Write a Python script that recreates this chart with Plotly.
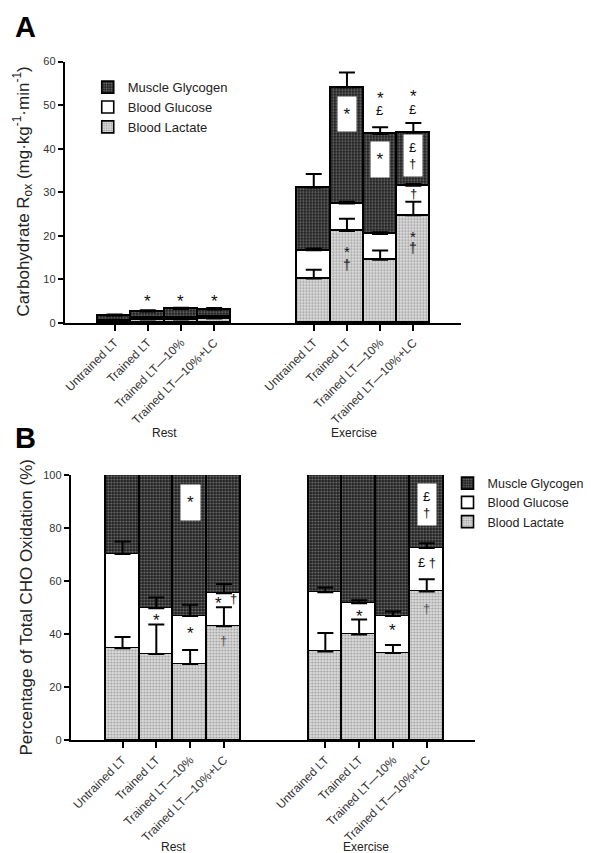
import plotly.graph_objects as go

# ---------------- data ----------------
conditions = ["Untrained LT", "Trained LT", "Trained LT\u201410%", "Trained LT\u201410%+LC"]
groups = ["Rest", "Exercise"]
sources = ["Muscle Glycogen", "Blood Glucose", "Blood Lactate"]

# Panel A: absolute rates (mg/kg/min), segment values
a_rest_lactate = [0.3, 0.8, 0.8, 1.0]
a_rest_glucose = [0.3, 0.4, 0.4, 0.5]
a_rest_glycogen = [1.1, 1.4, 2.0, 1.6]
a_ex_lactate = [10.2, 21.1, 14.5, 24.7]
a_ex_glucose = [6.5, 6.3, 5.9, 6.8]
a_ex_glycogen = [14.4, 26.7, 23.0, 12.2]
a_rest_lactate_err = [0.1, 0.2, 0.2, 0.2]
a_rest_glucose_err = [0.1, 0.1, 0.1, 0.1]
a_rest_glycogen_err = [0.2, 0.3, 0.3, 0.3]
a_ex_lactate_err = [2.0, 2.8, 2.1, 3.1]
a_ex_glucose_err = [0.4, 0.4, 0.4, 0.4]
a_ex_glycogen_err = [3.1, 3.4, 1.5, 2.2]

# Panel B: percentage of total CHO oxidation
b_rest_lactate = [34.7, 32.6, 28.8, 43.0]
b_rest_glucose = [35.6, 17.2, 18.1, 12.5]
b_rest_glycogen = [29.7, 50.2, 53.1, 44.5]
b_ex_lactate = [33.5, 39.9, 32.9, 56.1]
b_ex_glucose = [22.3, 11.8, 14.0, 16.4]
b_ex_glycogen = [44.2, 48.3, 53.1, 27.5]
b_rest_lactate_err = [4.3, 11.1, 5.3, 7.2]
b_rest_glucose_err = [4.7, 4.1, 4.2, 3.4]
b_ex_lactate_err = [7.0, 5.7, 3.0, 4.6]
b_ex_glucose_err = [1.8, 1.1, 1.7, 1.8]

# ---------------- helpers ----------------
GAP = 2  # empty category slots between groups
xpos = [i for i in range(len(conditions))] + [i + len(conditions) + GAP for i in range(len(conditions))]
ticktext = conditions + conditions
FONT = "Liberation Sans, Arial, sans-serif"

styles = {
    "Muscle Glycogen": dict(color="#2a2a2a",
                            pattern=dict(shape=".", bgcolor="#1e1e1e", fgcolor="#cfcfcf",
                                         size=3, solidity=0.35)),
    "Blood Glucose": dict(color="white"),
    "Blood Lactate": dict(color="#d0d0d0",
                          pattern=dict(shape=".", bgcolor="#dedede", fgcolor="#555555",
                                       size=3, solidity=0.4)),
}

fig = go.Figure()

def add_panel(lac, glu, gly, xa, ya, legend):
    segs = [("Blood Lactate", lac), ("Blood Glucose", glu), ("Muscle Glycogen", gly)]
    for name, vals in segs:
        m = dict(styles[name])
        m["line"] = dict(color="black", width=1.6)
        fig.add_trace(go.Bar(x=xpos, y=vals, name=name, marker=m, width=1.0,
                             xaxis=xa, yaxis=ya, legend=legend, showlegend=True))

def add_errors(seg_lists, err_lists, xa, ya):
    cum = [0.0] * len(xpos)
    for vals, errs in zip(seg_lists, err_lists):
        cum = [c + v for c, v in zip(cum, vals)]
        if errs is None:
            continue
        fig.add_trace(go.Scatter(x=xpos, y=cum, mode="markers",
                                 marker=dict(size=1, color="rgba(0,0,0,0)"),
                                 error_y=dict(type="data", symmetric=False, array=errs,
                                              arrayminus=[0] * len(errs), color="black",
                                              thickness=2, width=8),
                                 xaxis=xa, yaxis=ya, showlegend=False, hoverinfo="skip"))

# Panel A
a_lac = a_rest_lactate + a_ex_lactate
a_glu = a_rest_glucose + a_ex_glucose
a_gly = a_rest_glycogen + a_ex_glycogen
add_panel(a_lac, a_glu, a_gly, "x", "y", "legend")
add_errors([a_lac, a_glu, a_gly],
           [a_rest_lactate_err + a_ex_lactate_err, a_rest_glucose_err + a_ex_glucose_err,
            a_rest_glycogen_err + a_ex_glycogen_err], "x", "y")

# Panel B
b_lac = b_rest_lactate + b_ex_lactate
b_glu = b_rest_glucose + b_ex_glucose
b_gly = b_rest_glycogen + b_ex_glycogen
add_panel(b_lac, b_glu, b_gly, "x2", "y2", "legend2")
add_errors([b_lac, b_glu, b_gly],
           [b_rest_lactate_err + b_ex_lactate_err, b_rest_glucose_err + b_ex_glucose_err, None],
           "x2", "y2")

W, H = 591, 853
def px_x(p): return p / W
def px_y(p): return 1 - p / H

axis_common = dict(showline=True, linecolor="black", linewidth=2, ticks="outside",
                   tickcolor="black", tickwidth=2, showgrid=False, zeroline=False)
xtickfont = dict(family=FONT, size=12, color="#333")
ytickfont = dict(family=FONT, size=11, color="#333")

fig.update_layout(
    width=W, height=H, margin=dict(l=0, r=0, t=0, b=0),
    paper_bgcolor="white", plot_bgcolor="white",
    barmode="stack", bargap=0,
    font=dict(family=FONT, color="#222"),
    xaxis=dict(domain=[px_x(55), px_x(453)], range=[-1.5, 10.45], tickvals=xpos,
               ticktext=ticktext, tickangle=-45, ticklen=6, anchor="y",
               tickfont=xtickfont, **axis_common),
    yaxis=dict(domain=[px_y(313.3), px_y(48.3)], range=[0, 60], tickvals=[0, 10, 20, 30, 40, 50, 60],
               ticklen=5, anchor="x", tickfont=ytickfont, **axis_common),
    xaxis2=dict(domain=[px_x(61), px_x(467)], range=[-1.53, 10.44], tickvals=xpos,
                ticktext=ticktext, tickangle=-45, ticklen=6, anchor="y2",
                tickfont=xtickfont, **axis_common),
    yaxis2=dict(domain=[px_y(736.7), px_y(467.7)], range=[0, 100], tickvals=[0, 20, 40, 60, 80, 100],
                ticklen=5, anchor="x2", tickfont=ytickfont, **axis_common),
    legend=dict(x=px_x(78), y=px_y(59), xanchor="left", yanchor="top", traceorder="reversed",
                font=dict(family=FONT, size=13, color="#222"), itemwidth=30,
                bgcolor="rgba(0,0,0,0)", tracegroupgap=0),
    legend2=dict(x=px_x(439), y=px_y(461), xanchor="left", yanchor="top", traceorder="reversed",
                 font=dict(family=FONT, size=12.5, color="#222"), itemwidth=30,
                 bgcolor="rgba(0,0,0,0)", tracegroupgap=0),
)

ann = []
def txt(x, y, t, xr, yr, size=15, color="#111", **kw):
    d = dict(x=x, y=y, text=t, xref=xr, yref=yr, showarrow=False,
             xanchor="center", yanchor="middle",
             font=dict(family=FONT, size=size, color=color))
    if t == "*":
        d["yshift"] = -4
    d.update(kw)
    ann.append(d)

def boxed(x, y, t, xr, yr, w, h, size=15):
    txt(x, y, t, xr, yr, size=size, bgcolor="white", width=w, height=h, valign="middle")

# panel letters and axis titles
txt(px_x(15.5), px_y(13), "<b>A</b>", "paper", "paper", size=29, color="black")
txt(px_x(15.5), px_y(430), "<b>B</b>", "paper", "paper", size=29, color="black")
txt(px_x(13), px_y(180), "Carbohydrate R<sub>ox</sub> (mg\u00b7kg<sup>-1</sup>\u00b7min<sup>-1</sup>)",
    "paper", "paper", size=17, color="#222", textangle=-90)
txt(px_x(17), px_y(602), "Percentage of Total CHO Oxidation (%)",
    "paper", "paper", size=17, color="#222", textangle=-90)

# group labels
rest_c = sum(xpos[:4]) / 4
ex_c = sum(xpos[4:]) / 4
for xr, ypix in (("x", 425), ("x2", 845)):
    txt(rest_c, px_y(ypix), groups[0], xr, "paper", size=12, color="#222")
    txt(ex_c - 0.3, px_y(ypix), groups[1], xr, "paper", size=12, color="#222")

# panel A significance marks
for i in (1, 2, 3):
    txt(xpos[i], 5.8, "*", "x", "y", size=17)
txt(xpos[5], 60.5, "*", "x", "y", size=17)
boxed(xpos[5], 49.0, "*", "x", "y", 16, 32, size=17)
txt(xpos[5], 17.2, "*", "x", "y", size=15)
txt(xpos[5], 13.2, "\u2020", "x", "y", size=14)
txt(xpos[6], 52.5, "*", "x", "y", size=17)
txt(xpos[6], 48.7, "\u00a3", "x", "y", size=13)
boxed(xpos[6], 38.4, "*", "x", "y", 16, 33, size=17)
txt(xpos[7], 52.8, "*", "x", "y", size=17)
txt(xpos[7], 49.0, "\u00a3", "x", "y", size=13)
boxed(xpos[7], 38.4, "\u00a3<br>\u2020", "x", "y", 16, 39, size=13)
txt(xpos[7], 29.8, "\u2020", "x", "y", size=13)
txt(xpos[7], 20.7, "*", "x", "y", size=15)
txt(xpos[7], 17.2, "\u2020", "x", "y", size=14)

# caret line over exercise bars
fig.add_shape(type="line", xref="x", yref="y", x0=xpos[4] - 0.5, x1=xpos[7] + 0.5,
              y0=63.9, y1=63.9, line=dict(color="black", width=2))
txt((xpos[4] + xpos[7]) / 2, 66.5, "^", "x", "y", size=13)

# panel B significance marks
txt(xpos[1], 46.8, "*", "x2", "y2", size=17)
boxed(xpos[2], 91.3, "*", "x2", "y2", 17, 33, size=17)
txt(xpos[2], 41.9, "*", "x2", "y2", size=17)
txt(xpos[3] - 0.15, 53.0, "*", "x2", "y2", size=17)
txt(xpos[3] + 0.27, 53.5, "\u2020", "x2", "y2", size=13)
txt(xpos[3], 37.8, "\u2020", "x2", "y2", size=13, color="#555")
txt(xpos[5], 48.3, "*", "x2", "y2", size=17)
txt(xpos[6], 43.0, "*", "x2", "y2", size=17)
boxed(xpos[7], 89.1, "\u00a3<br>\u2020", "x2", "y2", 16, 39, size=13)
txt(xpos[7], 66.9, "\u00a3 \u2020", "x2", "y2", size=13)
txt(xpos[7], 49.7, "\u2020", "x2", "y2", size=13, color="#555")

fig.update_layout(annotations=ann)
fig.write_html("out.html")
